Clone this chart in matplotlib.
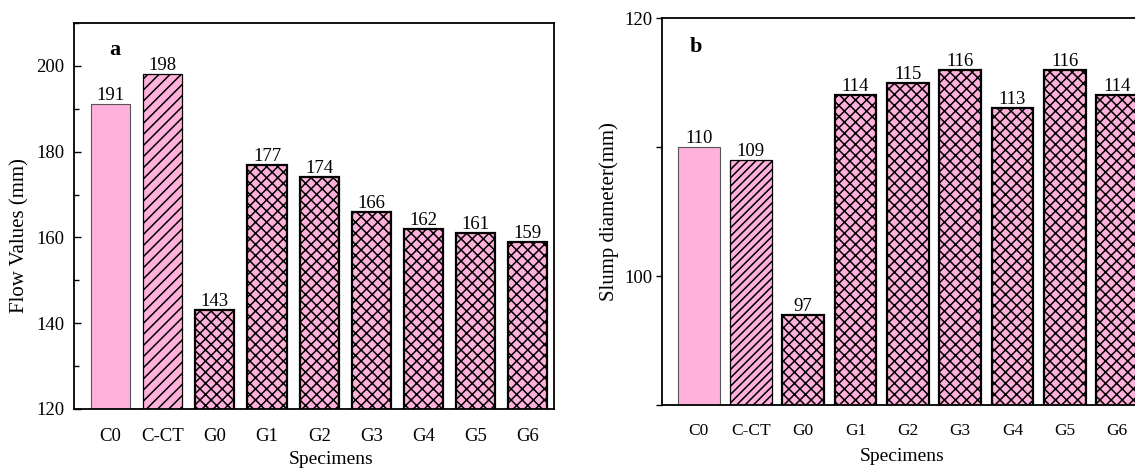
import numpy as np
import matplotlib
matplotlib.use('Agg')
import matplotlib.pyplot as plt
from matplotlib.ticker import MultipleLocator

plt.rcParams['font.family'] = ['Liberation Serif', 'DejaVu Serif']
plt.rcParams['hatch.linewidth'] = 1.1
plt.rcParams['hatch.color'] = 'black'

specimens = ['C0', 'C-CT', 'G0', 'G1', 'G2', 'G3', 'G4', 'G5', 'G6']
flow_values = [191, 198, 143, 177, 174, 166, 162, 161, 159]
slump_diameter = [110, 109, 97, 114, 115, 116, 113, 116, 114]

pink = '#ffb1db'
x = np.arange(len(specimens))


def draw_bars(ax, values, width, hatch_ct, fs_val):
    for i, v in enumerate(values):
        if i == 0:
            ax.bar(x[i], v, width, color=pink, edgecolor='#555555', linewidth=0.8, zorder=2)
        elif i == 1:
            ax.bar(x[i], v, width, color=pink, edgecolor='black', linewidth=0.9,
                   hatch=hatch_ct, zorder=2)
        else:
            ax.bar(x[i], v, width, color=pink, edgecolor='black', linewidth=1.6,
                   hatch='xxx', zorder=2)
        ax.text(x[i], v, f'{v}', ha='center', va='bottom', fontsize=fs_val, zorder=3)


fig = plt.figure(figsize=(11.35, 4.68), dpi=100)

# panel a: flow values
ax1 = fig.add_axes([0.0652, 0.1261, 0.4229, 0.8248])
draw_bars(ax1, flow_values, 0.75, '///', 13.5)
ax1.set_xlim(-0.7, 8.5)
ax1.set_ylim(120, 210)
ax1.yaxis.set_major_locator(MultipleLocator(20))
ax1.yaxis.set_minor_locator(MultipleLocator(10))
ax1.tick_params(axis='y', which='major', direction='in', length=5, width=1, labelsize=13.5, pad=7)
ax1.tick_params(axis='y', which='minor', direction='in', length=3.5, width=1)
ax1.set_xticks(x)
ax1.set_xticklabels(specimens)
ax1.tick_params(axis='x', length=0, labelsize=13.5, pad=14)
ax1.set_ylabel('Flow Values (mm)', fontsize=15)
ax1.yaxis.set_label_coords(-0.093, 0.45)
ax1.set_xlabel('Specimens', fontsize=14)
ax1.xaxis.set_label_coords(0.535, -0.11)
ax1.text(0.085, 0.955, 'a', transform=ax1.transAxes, fontsize=16, fontweight='bold',
         ha='center', va='top')
for s in ax1.spines.values():
    s.set_linewidth(1.3)

# panel b: slump diameter
ax2 = fig.add_axes([0.5833, 0.1346, 0.4239, 0.8269])
draw_bars(ax2, slump_diameter, 0.8, '////', 13.5)
ax2.set_xlim(-0.7, 8.5)
ax2.set_ylim(90, 120)
ax2.yaxis.set_major_locator(MultipleLocator(20))
ax2.yaxis.set_minor_locator(MultipleLocator(10))
ax2.tick_params(axis='y', which='major', direction='out', length=4, width=1, labelsize=13.5, pad=2.5)
ax2.tick_params(axis='y', which='minor', direction='out', length=4, width=1)
ax2.set_xticks(x)
ax2.set_xticklabels(specimens)
ax2.tick_params(axis='x', length=0, labelsize=12.5, pad=13)
ax2.set_ylabel('Slump diameter(mm)', fontsize=15)
ax2.yaxis.set_label_coords(-0.09, 0.5)
ax2.set_xlabel('Specimens', fontsize=14)
ax2.xaxis.set_label_coords(0.5, -0.11)
ax2.text(0.07, 0.95, 'b', transform=ax2.transAxes, fontsize=16, fontweight='bold',
         ha='center', va='top')
for s in ax2.spines.values():
    s.set_linewidth(1.3)

fig.savefig('out.png', dpi=100)
